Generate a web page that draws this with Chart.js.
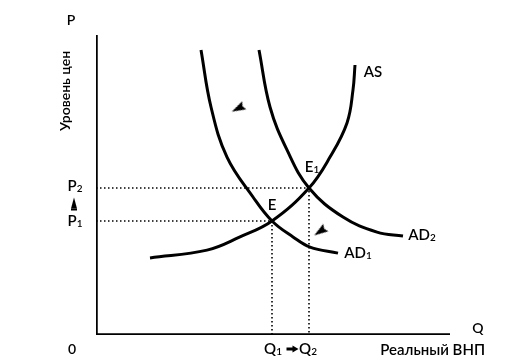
<!DOCTYPE html>
<html>
<head>
<meta charset="utf-8">
<script src="https://cdn.jsdelivr.net/npm/chart.js@4"></script>
<style>
html,body{margin:0;padding:0;background:#fff;}
canvas{display:block;}
</style>
</head>
<body>
<canvas id="c" width="520" height="363"></canvas>
<script>
const asCurve = [[13.5,25.7],[27.75,28.3],[36,32.7],[44,38],[53.25,49],[58.5,59.3],[62.75,70.7],[64.25,81.7],[64.75,90]];
const ad1Curve = [[26.25,95],[28.75,76],[32.75,59.3],[39.25,46],[44,38],[49.25,32.7],[53.5,29.3],[60.5,27.3]];
const ad2Curve = [[40.75,95],[43.5,76],[47.75,61.7],[53.25,49],[61.75,39.3],[70.25,34.3],[76.75,33]];
const equilibria = {E:[44,38], E1:[53.25,49]};
const axisEnds = {q:88.5, p:100.7};
const shiftArrows = [[35.5,75.5],[56,34.5]];
const shiftArrowAngles = [-27,-34];

const pts = a => a.map(([x,y]) => ({x,y}));
const E = equilibria.E, E1 = equilibria.E1;

// elongated wedge marker (points left before rotation)
const wedge = document.createElement('canvas');
wedge.width = 16; wedge.height = 16;
(() => {
  const g = wedge.getContext('2d');
  g.fillStyle = '#000';
  g.beginPath(); g.moveTo(1, 8); g.lineTo(15, 3.5); g.lineTo(13, 8); g.lineTo(15, 12.5); g.closePath(); g.fill();
})();

const curveStyle = {showLine:true, borderColor:'#000', borderWidth:3, pointRadius:0, fill:false, tension:0.4};
const dotStyle = {showLine:true, borderColor:'#000', borderWidth:1.6, borderDash:[1.5,2.5], pointRadius:0, fill:false, tension:0};
const axisStyle = {showLine:true, borderColor:'#000', borderWidth:3.5, pointRadius:0, fill:false, tension:0, borderCapStyle:'butt', borderJoinStyle:'miter'};

const labels = {
  id:'labels',
  afterDatasetsDraw(chart){
    const ctx = chart.ctx, xs = chart.scales.x, ys = chart.scales.y;
    const X = v => xs.getPixelForValue(v), Y = v => ys.getPixelForValue(v);
    const F = (s) => '600 ' + s + 'px Lato, "DejaVu Sans", sans-serif';
    const sub = (m, s, x, y, ms=15, ss=10) => {
      ctx.font = F(ms); const wm = ctx.measureText(m).width;
      ctx.font = F(ss); const ws = ctx.measureText(s).width;
      const left = x - (wm + ws) / 2;
      ctx.textAlign = 'left';
      ctx.font = F(ms); ctx.fillText(m, left, y);
      ctx.font = F(ss); ctx.fillText(s, left + wm, y + 3);
    };
    ctx.save();
    ctx.fillStyle = '#000';
    ctx.textBaseline = 'middle';
    ctx.textAlign = 'center';
    ctx.font = F(14);
    const x0 = X(0), y0 = Y(0);
    ctx.fillText('P', x0 - 25, Y(axisEnds.p) - 12);
    ctx.fillText('0', x0 - 24, y0 + 14);
    ctx.fillText('Q', X(axisEnds.q) + 28, y0 - 7);
    ctx.font = F(15);
    ctx.fillText('AS', 373, 72);
    sub('AD', '1', 358, 253);
    sub('AD', '2', 422, 235);
    ctx.textAlign = 'center';
    ctx.font = F(15);
    ctx.fillText('E', X(E[0]), Y(E[1]) - 16);
    sub('E', '1', X(E1[0]) + 3, Y(E1[1]) - 21);
    sub('P', '2', x0 - 21, Y(E1[1]) - 2);
    sub('P', '1', x0 - 21, Y(E[1]));
    const ym = (Y(E1[1]) + Y(E[1])) / 2 - 1;
    ctx.beginPath();
    ctx.moveTo(x0 - 22, ym - 6); ctx.lineTo(x0 - 19, ym + 5); ctx.lineTo(x0 - 25, ym + 5); ctx.closePath(); ctx.fill();
    ctx.fillRect(x0 - 25, ym + 5, 6, 2);
    sub('Q', '1', X(E[0]) + 1, y0 + 14);
    sub('Q', '2', X(E1[0]) - 1, y0 + 14);
    const xm = (X(E[0]) + X(E1[0])) / 2 + 2, yq = y0 + 14;
    ctx.fillRect(xm - 6, yq - 1.5, 7, 3);
    ctx.beginPath(); ctx.moveTo(xm + 6, yq); ctx.lineTo(xm, yq - 3.5); ctx.lineTo(xm, yq + 3.5); ctx.closePath(); ctx.fill();
    ctx.font = F(15);
    ctx.textAlign = 'right';
    ctx.fillText('Реальный ВНП', 485, y0 + 15);
    ctx.save();
    ctx.translate(x0 - 31, 91);
    ctx.rotate(-Math.PI/2);
    ctx.textAlign = 'center';
    ctx.font = F(14);
    ctx.fillText('Уровень цен', 0, 0);
    ctx.restore();
    ctx.restore();
  }
};

new Chart(document.getElementById('c'), {
  type:'scatter',
  data:{datasets:[
    Object.assign({data:[{x:0,y:axisEnds.p},{x:0,y:0},{x:axisEnds.q,y:0}]}, axisStyle),
    Object.assign({data:[{x:0,y:E[1]},{x:E[0],y:E[1]},{x:E[0],y:0}]}, dotStyle),
    Object.assign({data:[{x:0,y:E1[1]},{x:E1[0],y:E1[1]},{x:E1[0],y:0}]}, dotStyle),
    Object.assign({data:pts(asCurve)}, curveStyle),
    Object.assign({data:pts(ad1Curve)}, curveStyle),
    Object.assign({data:pts(ad2Curve)}, curveStyle),
    {data:pts(shiftArrows), showLine:false, pointStyle:wedge, pointRadius:8, pointRotation:shiftArrowAngles, backgroundColor:'#000', borderColor:'#000', borderWidth:0}
  ]},
  options:{
    responsive:false, animation:false,
    layout:{padding:{left:96,right:24,top:35,bottom:28}},
    plugins:{legend:{display:false}, tooltip:{enabled:false}},
    scales:{
      x:{type:'linear', min:0, max:100, display:false},
      y:{type:'linear', min:0, max:100, display:false}
    }
  },
  plugins:[labels]
});
</script>
</body>
</html>
